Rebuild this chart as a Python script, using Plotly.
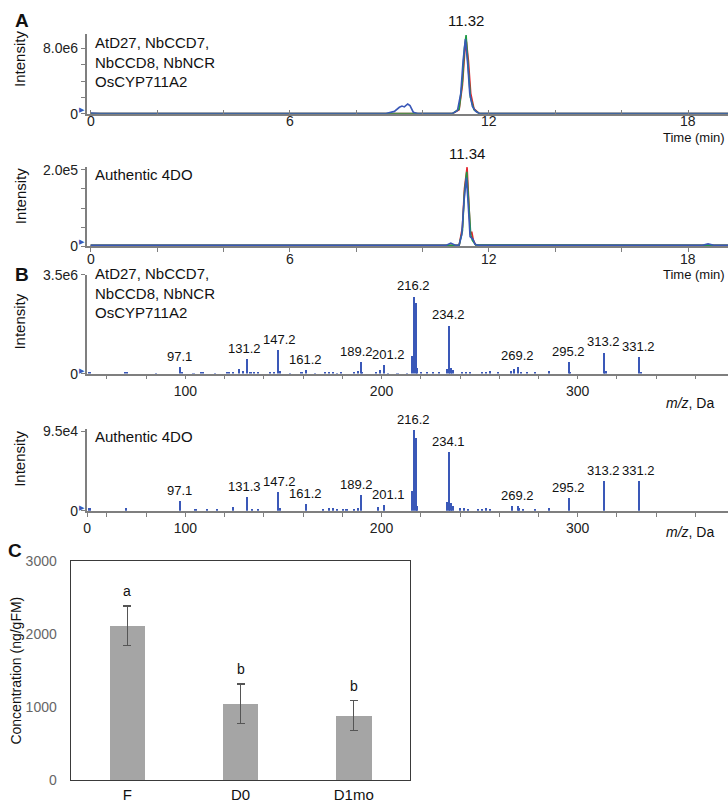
import plotly.graph_objects as go

W, H = 728, 808
FONT = "Liberation Sans, Arial, sans-serif"
BLUE = "#3a58b8"
RED = "#e3262d"
GREEN = "#1e9a46"
AXC = "#7f7f7f"

# ---------------- Panel A : chromatograms ----------------
# A1: co-expression sample
a1_blue_t = [0.0, 0.3, 8.9, 9.15, 9.3, 9.38, 9.45, 9.55, 9.62, 9.72, 9.85, 10.9, 11.05, 11.15, 11.22,
             11.29, 11.36, 11.42, 11.5, 11.6, 11.7, 12.1, 19.2]
a1_blue_i = [0.1e6, 0.05e6, 0.05e6, 0.3e6, 0.8e6, 0.95e6, 0.85e6, 1.2e6, 1.0e6, 0.2e6, 0.05e6, 0.05e6,
             0.4e6, 2.5e6, 6.5e6, 9.1e6, 6.0e6, 2.5e6, 0.9e6, 0.3e6, 0.08e6, 0.05e6, 0.05e6]
a1_green_t = [0.0, 10.9, 11.1, 11.2, 11.26, 11.31, 11.36, 11.44, 11.55, 11.7, 19.2]
a1_green_i = [0.03e6, 0.03e6, 0.6e6, 4.0e6, 8.0e6, 9.6e6, 6.5e6, 2.0e6, 0.5e6, 0.05e6, 0.03e6]
a1_red_t = [0.0, 10.9, 11.1, 11.2, 11.27, 11.32, 11.38, 11.45, 11.55, 11.7, 19.2]
a1_red_i = [0.03e6, 0.03e6, 0.5e6, 3.5e6, 7.5e6, 8.8e6, 6.5e6, 2.5e6, 0.6e6, 0.05e6, 0.03e6]
a1_peak_rt = 11.32
a1_label = "AtD27, NbCCD7,<br>NbCCD8, NbNCR<br>OsCYP711A2"

# A2: authentic 4DO
a2_blue_t = [0.0, 10.7, 10.85, 10.92, 11.0, 11.1, 11.18, 11.25, 11.32, 11.38, 11.43, 11.47, 11.52,
             11.58, 11.7, 18.4, 18.6, 18.8, 19.2]
a2_blue_i = [0.02e5, 0.02e5, 0.08e5, 0.06e5, 0.02e5, 0.03e5, 0.3e5, 1.2e5, 1.8e5, 1.0e5, 0.25e5,
             0.22e5, 0.18e5, 0.05e5, 0.02e5, 0.02e5, 0.06e5, 0.02e5, 0.02e5]
a2_green_t = [0.0, 11.1, 11.2, 11.26, 11.33, 11.39, 11.45, 11.5, 11.6, 19.2]
a2_green_i = [0.02e5, 0.02e5, 0.4e5, 1.4e5, 1.95e5, 1.1e5, 0.3e5, 0.15e5, 0.03e5, 0.02e5]
a2_red_t = [0.0, 11.1, 11.2, 11.26, 11.34, 11.4, 11.44, 11.48, 11.53, 11.6, 19.2]
a2_red_i = [0.02e5, 0.02e5, 0.5e5, 1.5e5, 2.07e5, 1.1e5, 0.3e5, 0.38e5, 0.15e5, 0.03e5, 0.02e5]
a2_peak_rt = 11.34
a2_label = "Authentic 4DO"

chrom_ticks = [0, 2, 4, 6, 8, 10, 12, 14, 16, 18]
chrom_labels = [0, 6, 12, 18]

# ---------------- Panel B : MS/MS spectra ----------------
b1_mz = [51, 69, 70, 85, 97.1, 98, 104, 108, 109, 115, 121, 122, 124, 127, 129, 131.2, 133, 135, 137,
         143, 145, 147.2, 148, 153, 159, 161.2, 166, 171, 173, 175, 177, 179, 186, 188, 189.2, 190,
         197, 199, 201.2, 203, 208, 213, 215.2, 216.2, 217.2, 218, 220, 223, 226, 229, 233, 234.2,
         235, 236, 241, 243, 245, 251, 253, 255, 259, 266, 267.5, 269.2, 271, 274, 278, 285, 295.2,
         296, 313.2, 314, 331.2, 332]
b1_int = [0.05e6, 0.04e6, 0.05e6, 0.03e6, 0.25e6, 0.05e6, 0.03e6, 0.04e6, 0.05e6, 0.03e6, 0.05e6,
          0.04e6, 0.04e6, 0.17e6, 0.1e6, 0.53e6, 0.07e6, 0.05e6, 0.04e6, 0.04e6, 0.06e6, 0.85e6,
          0.12e6, 0.03e6, 0.05e6, 0.14e6, 0.03e6, 0.05e6, 0.04e6, 0.05e6, 0.03e6, 0.04e6, 0.06e6,
          0.1e6, 0.42e6, 0.08e6, 0.06e6, 0.13e6, 0.32e6, 0.03e6, 0.03e6, 0.03e6, 0.64e6, 2.73e6,
          2.5e6, 0.2e6, 0.05e6, 0.04e6, 0.04e6, 0.04e6, 0.18e6, 1.71e6, 0.2e6, 0.15e6, 0.06e6,
          0.04e6, 0.04e6, 0.04e6, 0.05e6, 0.09e6, 0.04e6, 0.1e6, 0.17e6, 0.26e6, 0.06e6, 0.04e6,
          0.04e6, 0.1e6, 0.41e6, 0.06e6, 0.76e6, 0.1e6, 0.59e6, 0.08e6]
b1_label_mz = [97.1, 131.2, 147.2, 161.2, 189.2, 201.2, 216.2, 234.2, 269.2, 295.2, 313.2, 331.2]
b1_label_int = [0.25e6, 0.53e6, 0.85e6, 0.14e6, 0.42e6, 0.32e6, 2.73e6, 1.71e6, 0.26e6, 0.41e6,
                0.76e6, 0.59e6]

b2_mz = [51, 69.6, 97.1, 105, 111, 116, 124, 131.3, 134, 137, 147.2, 148, 161.2, 170, 173, 175, 177,
         180, 182, 186, 188, 189.2, 198, 201.1, 215.2, 216.2, 217.2, 218, 233, 234.1, 235, 236, 240,
         242, 244, 249, 251, 253, 255, 266.5, 269.2, 270, 272, 278, 285, 295.2, 313.2, 331.2]
b2_int = [0.3e4, 0.4e4, 1.2e4, 0.15e4, 0.15e4, 0.15e4, 0.5e4, 1.6e4, 0.2e4, 0.2e4, 2.2e4, 0.3e4,
          0.8e4, 0.2e4, 0.3e4, 0.4e4, 0.2e4, 0.2e4, 0.15e4, 0.2e4, 0.4e4, 1.9e4, 0.5e4, 0.7e4,
          2.4e4, 9.7e4, 8.7e4, 0.6e4, 1.0e4, 7.1e4, 0.9e4, 0.6e4, 0.4e4, 0.3e4, 0.2e4, 0.2e4, 0.2e4,
          0.3e4, 0.2e4, 0.6e4, 0.6e4, 0.3e4, 0.2e4, 0.15e4, 0.3e4, 1.5e4, 3.6e4, 3.6e4]
b2_label_mz = [97.1, 131.3, 147.2, 161.2, 189.2, 201.1, 216.2, 234.1, 269.2, 295.2, 313.2, 331.2]
b2_label_int = [1.2e4, 1.6e4, 2.2e4, 0.8e4, 1.9e4, 0.7e4, 9.7e4, 7.1e4, 0.6e4, 1.5e4, 3.6e4, 3.6e4]

# ---------------- Panel C : concentrations ----------------
c_groups = ["F", "D0", "D1mo"]
c_means = [2110, 1045, 884]
c_err = [270, 270, 205]
c_letters = ["a", "b", "b"]


def xd(px):
    return px / W


def yd(px):
    return 1 - px / H


fig = go.Figure()

# chromatogram traces
for xa, ya, sets in [
    ("x", "y", [(a1_red_t, a1_red_i, RED), (a1_green_t, a1_green_i, GREEN), (a1_blue_t, a1_blue_i, BLUE)]),
    ("x2", "y2", [(a2_red_t, a2_red_i, RED), (a2_green_t, a2_green_i, GREEN), (a2_blue_t, a2_blue_i, BLUE)]),
]:
    for t, i, c in sets:
        fig.add_trace(go.Scatter(x=t, y=i, mode="lines", line=dict(color=c, width=1.6),
                                 xaxis=xa, yaxis=ya, showlegend=False, hoverinfo="skip",
                                 cliponaxis=False))

# spectra
for xa, ya, mz, it in [("x3", "y3", b1_mz, b1_int), ("x4", "y4", b2_mz, b2_int)]:
    fig.add_trace(go.Bar(x=mz, y=it, width=1.1, marker=dict(color=BLUE, line=dict(width=0)),
                         xaxis=xa, yaxis=ya, showlegend=False, hoverinfo="skip", cliponaxis=False))

# concentration bars
fig.add_trace(go.Bar(x=c_groups, y=c_means, width=0.31, marker=dict(color="#a5a5a5", line=dict(width=0)),
                     error_y=dict(type="data", array=c_err, color="#555555", thickness=1.5, width=4),
                     xaxis="x5", yaxis="y5", showlegend=False, hoverinfo="skip"))

tf = dict(family=FONT, size=14, color="#222222")
common_ax = dict(showline=True, linecolor=AXC, linewidth=1.5, ticklen=4,
                 tickcolor=AXC, tickwidth=1.2, showgrid=False, zeroline=False, tickfont=tf)

ms_ticks = list(range(60, 380, 20))
ms_text = [str(v) if v in (100, 200, 300) else "" for v in ms_ticks]

fig.update_layout(
    width=W, height=H, margin=dict(l=0, r=0, t=0, b=0),
    paper_bgcolor="white", plot_bgcolor="rgba(0,0,0,0)", bargap=0,
    font=dict(family=FONT, size=14, color="#222222"),
    xaxis=dict(domain=[xd(84), 1], range=[-0.12, 19.2], tickvals=chrom_ticks, showticklabels=False,
               anchor="y", ticks="inside", **common_ax),
    yaxis=dict(domain=[yd(108), yd(27)], range=[0, 9.67e6], tickvals=[0, 2e6, 4e6, 6e6, 8e6],
               ticktext=["0", "", "", "", "8.0e6"], anchor="x", ticks="outside", **common_ax),
    xaxis2=dict(domain=[xd(84), 1], range=[-0.12, 19.2], tickvals=chrom_ticks, showticklabels=False,
                anchor="y2", ticks="outside", **common_ax),
    yaxis2=dict(domain=[yd(243), yd(162)], range=[0, 2.08e5], tickvals=[0, 0.5e5, 1e5, 1.5e5, 2e5],
                ticktext=["0", "", "", "", "2.0e5"], anchor="x2", ticks="outside", **common_ax),
    xaxis3=dict(domain=[xd(84), 1], range=[49.7, 376.6], tickvals=ms_ticks, ticktext=ms_text,
                anchor="y3", ticks="outside", **common_ax),
    yaxis3=dict(domain=[yd(373), yd(272)], range=[0, 3.5e6], tickvals=[0, 3.5e6],
                ticktext=["0", "3.5e6"], anchor="x3", ticks="outside", **common_ax),
    xaxis4=dict(domain=[xd(84), 1], range=[49.7, 376.6], tickvals=[50] + ms_ticks,
                ticktext=["0"] + ms_text, anchor="y4", ticks="outside", **common_ax),
    yaxis4=dict(domain=[yd(513), yd(429.5)], range=[0, 9.8e4], tickvals=[0, 9.5e4],
                ticktext=["0", "9.5e4"], anchor="x4", ticks="outside", **common_ax),
    xaxis5=dict(domain=[xd(68), xd(409)], anchor="y5", showline=True, mirror=True, linecolor="#3a3a3a",
                linewidth=1.3, ticks="", showgrid=False, zeroline=False,
                tickfont=dict(family=FONT, size=15, color="#111111")),
    yaxis5=dict(domain=[yd(788), yd(564)], range=[0, 3000], tickvals=[0, 1000, 2000, 3000],
                anchor="x5", showline=True, mirror=True, linecolor="#3a3a3a", linewidth=1.3, ticks="",
                showgrid=False, zeroline=False, ticklabelstandoff=10,
                tickfont=dict(family=FONT, size=14, color="#666666")),
)

ann = []


def txt(x, y, s, size=14, xanchor="left", yanchor="middle", **kw):
    d = dict(x=xd(x), y=yd(y), xref="paper", yref="paper", text=s, showarrow=False,
             xanchor=xanchor, yanchor=yanchor, font=dict(family=FONT, size=size, color="#111111"))
    d.update(kw)
    ann.append(d)


# panel letters
txt(10, 13, "<b>A</b>", size=19)
txt(10, 272, "<b>B</b>", size=19)
txt(3, 553, "<b>C</b>", size=19)

# sample labels
txt(90, 24, a1_label, size=15, yanchor="top", align="left")
txt(90, 170, a2_label, size=15)
txt(90, 260, a1_label, size=15, yanchor="top", align="left")
txt(90, 437, a2_label, size=15)

# y titles
for yc in [52, 192, 320, 460]:
    txt(17, yc, "Intensity", size=15, xanchor="center", textangle=-90)
txt(13, 676, "Concentration (ng/gFM)", size=14, xanchor="center", textangle=-90)

# retention-time tick labels (placed tight under the axis like the reference)
for xa, ypix in [("x", 115), ("x2", 256)]:
    for v in chrom_labels:
        ann.append(dict(x=v, y=yd(ypix), xref=xa, yref="paper", text=str(v), showarrow=False,
                        xanchor="center", yanchor="middle", font=tf))

# x titles
txt(727, 132, "Time (min)", size=13, xanchor="right")
txt(727, 272, "Time (min)", size=13, xanchor="right")
txt(716, 403, "<i>m/z</i>, Da", size=14, xanchor="right")
txt(716, 535, "<i>m/z</i>, Da", size=14, xanchor="right")

# cursor markers
for yc in [104, 239, 370, 510]:
    txt(84, yc, "▶", size=7, xanchor="right", font=dict(family="DejaVu Sans", size=7, color=BLUE))

# retention-time labels
for xa, ya, rt in [("x", "y", a1_peak_rt), ("x2", "y2", a2_peak_rt)]:
    ann.append(dict(x=rt, y=1, xref=xa, yref=ya + " domain", text=f"{rt:.2f}", showarrow=False,
                    xanchor="center", yanchor="bottom", yshift=3,
                    font=dict(family=FONT, size=15, color="#111111")))

# fragment labels (small horizontal nudges keep neighbouring labels apart)
nudge = {189.2: -4, 201.2: 5, 201.1: 5, 131.2: -2, 131.3: -2, 147.2: 2}
for xa, ya, mzs, its in [("x3", "y3", b1_label_mz, b1_label_int), ("x4", "y4", b2_label_mz, b2_label_int)]:
    for m, v in zip(mzs, its):
        ann.append(dict(x=m, y=v, xref=xa, yref=ya, text=f"{m:.1f}", showarrow=False,
                        xanchor="center", yanchor="bottom", yshift=1, xshift=nudge.get(m, 0),
                        font=dict(family=FONT, size=13, color="#111111")))

# significance letters
for g, m, e, l in zip(c_groups, c_means, c_err, c_letters):
    ann.append(dict(x=g, y=m + e, xref="x5", yref="y5", text=l, showarrow=False,
                    xanchor="center", yanchor="bottom", yshift=5,
                    font=dict(family=FONT, size=14, color="#111111")))

fig.update_layout(annotations=ann)
fig.write_html("out.html", config={"displayModeBar": False})

# remove default page margins so the 728x808 figure fills the window exactly
with open("out.html", "r", encoding="utf-8") as f:
    html = f.read()
html = html.replace("<head>", "<head><style>html,body{margin:0;padding:0;overflow:hidden;}</style>", 1)
with open("out.html", "w", encoding="utf-8") as f:
    f.write(html)
